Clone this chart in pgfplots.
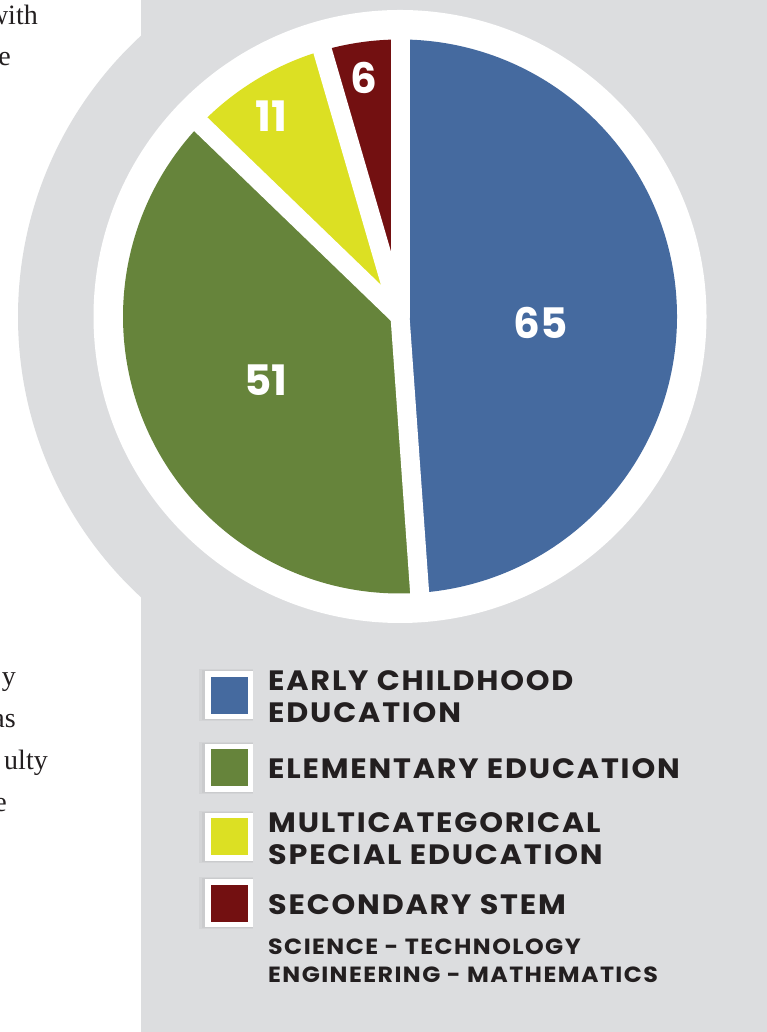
\documentclass[border=0pt]{standalone}
\usepackage{pgfplots}
\pgfplotsset{compat=1.18}
\usepackage{pgfplotstable}
\usepackage{fontspec}
\setmainfont{Liberation Serif}
\newfontfamily\pop{Poppins}
\newfontfamily\popl{Poppins}[FakeStretch=1.08, LetterSpace=6.5]
\definecolor{bgray}{HTML}{DCDDDF}
\definecolor{ecblue}{HTML}{456A9F}
\definecolor{elgreen}{HTML}{66843B}
\definecolor{msyellow}{HTML}{DCE023}
\definecolor{ssred}{HTML}{731011}
\definecolor{txt}{HTML}{231F20}

\pgfplotstableread{
value
65
51
11
6
}\piedata

\begin{document}
\begin{tikzpicture}[x=1pt,y=1pt]
\pgfplotstablegetelem{0}{value}\of\piedata \xdef\va{\pgfplotsretval}
\pgfplotstablegetelem{1}{value}\of\piedata \xdef\vb{\pgfplotsretval}
\pgfplotstablegetelem{2}{value}\of\piedata \xdef\vc{\pgfplotsretval}
\pgfplotstablegetelem{3}{value}\of\piedata \xdef\vd{\pgfplotsretval}
\pgfmathsetmacro\tot{\va+\vb+\vc+\vd}
\pgfmathsetmacro\aA{90}
\pgfmathsetmacro\aB{\aA-360*(\va/\tot)}
\pgfmathsetmacro\aC{\aB-360*(\vb/\tot)}
\pgfmathsetmacro\aD{\aC-360*(\vc/\tot)}
\pgfmathsetmacro\aE{\aD-360*(\vd/\tot)}

\useasboundingbox (0,0) rectangle (767,1032);
\clip (0,0) rectangle (767,1032);
\fill[white] (0,0) rectangle (767,1032);
\fill[bgray] (400,715.5) circle[radius=382];
\fill[bgray] (141,0) rectangle (767,1032);
\fill[white] (400,715.5) circle[radius=306.5];

% cut-off body text on the left
\begin{scope}[every node/.style={anchor=base east, inner sep=0pt, text=txt, font=\fontsize{28}{28}\selectfont}]
\node at (38,1007) {with};
\node at (11,966) {e};
\node at (16,346) {y};
\node at (16,304) {as};
\node at (48,262) {ulty};
\node at (7,220) {e};
\end{scope}

\begin{axis}[at={(0,0)}, anchor=south west, width=767pt, height=1032pt,
  scale only axis, xmin=0, xmax=767, ymin=0, ymax=1032, hide axis, clip=false]
\addplot[draw=none] coordinates {(400,715.5)};
\fill[ecblue] (axis cs:400,715.5) -- ([shift={(\aA:277pt)}]axis cs:400,715.5)
  arc[start angle=\aA, end angle=\aB, radius=277pt] -- cycle;
\fill[elgreen] (axis cs:400,715.5) -- ([shift={(\aB:277pt)}]axis cs:400,715.5)
  arc[start angle=\aB, end angle=\aC, radius=277pt] -- cycle;
\fill[msyellow] (axis cs:400,715.5) -- ([shift={(\aC:277pt)}]axis cs:400,715.5)
  arc[start angle=\aC, end angle=\aD, radius=277pt] -- cycle;
\fill[ssred] (axis cs:400,715.5) -- ([shift={(\aD:277pt)}]axis cs:400,715.5)
  arc[start angle=\aD, end angle=\aE, radius=277pt] -- cycle;
\draw[white, line width=19pt, line cap=round] (axis cs:400,715.5) -- ([shift={(\aA:285pt)}]axis cs:400,715.5);
\draw[white, line width=19pt, line cap=round] (axis cs:400,715.5) -- ([shift={(\aB:285pt)}]axis cs:400,715.5);
\draw[white, line width=19pt, line cap=round] (axis cs:400,715.5) -- ([shift={(\aC:285pt)}]axis cs:400,715.5);
\draw[white, line width=19pt, line cap=round] (axis cs:400,715.5) -- ([shift={(\aD:285pt)}]axis cs:400,715.5);
\begin{scope}[every node/.style={text=white, inner sep=0pt, font=\pop\bfseries\fontsize{42}{42}\selectfont}]
\node at (axis cs:541,709) {\va};
\node at (axis cs:266,652) {\vb};
\node at (axis cs:271,916) {\vc};
\node at (axis cs:364,954.5) {\vd};
\end{scope}
\end{axis}

% legend
\foreach \y/\c in {336.5/ecblue, 264/elgreen, 195/msyellow, 128.5/ssred}{
  \fill[black, opacity=0.04] (199,\y-26) rectangle (253,\y+26);
  \fill[black, opacity=0.04] (202,\y-25) rectangle (253,\y+25);
  \fill[white] (205,\y-24) rectangle (253,\y+24);
  \fill[\c] (210.5,\y-18.5) rectangle ++(37,37);
}
\begin{scope}[every node/.style={anchor=base west, inner sep=0pt, text=txt, font=\popl\bfseries\fontsize{28}{28}\selectfont}]
\node at (268,341) {EARLY CHILDHOOD};
\node at (268,309) {EDUCATION};
\node at (268,253) {ELEMENTARY EDUCATION};
\node at (268,199) {MULTICATEGORICAL};
\node at (268,167) {SPECIAL EDUCATION};
\node at (268,117) {SECONDARY STEM};
\end{scope}
\begin{scope}[every node/.style={anchor=base west, inner sep=0pt, text=txt, font=\popl\bfseries\fontsize{22}{22}\selectfont}]
\node at (268,77) {SCIENCE - TECHNOLOGY};
\node at (268,49) {ENGINEERING - MATHEMATICS};
\end{scope}
\end{tikzpicture}
\end{document}
